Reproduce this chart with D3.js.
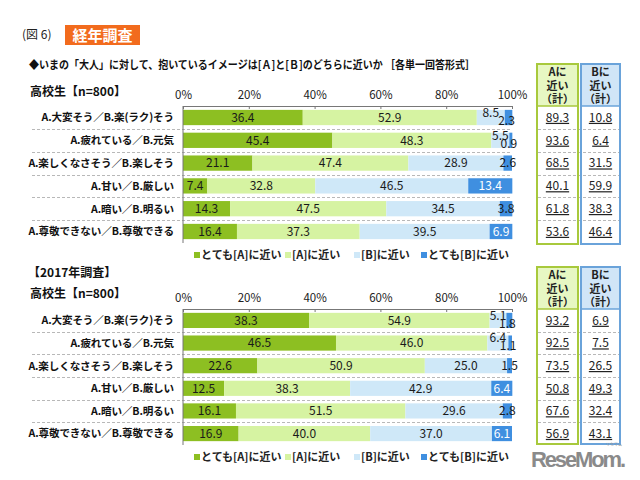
<!DOCTYPE html>
<html><head><meta charset="utf-8">
<script src="https://cdn.jsdelivr.net/npm/d3@7"></script>
<style>
html,body{margin:0;padding:0;background:#fff;}
svg{display:block;font-family:"Noto Sans CJK JP","Noto Sans",sans-serif;}
</style></head>
<body>
<svg id="chart" width="640" height="480"></svg>
<script>
// ---------- DATA ----------
const categories = [
  "A.大変そう／B.楽(ラク)そう",
  "A.疲れている／B.元気",
  "A.楽しくなさそう／B.楽しそう",
  "A.甘い／B.厳しい",
  "A.暗い／B.明るい",
  "A.尊敬できない／B.尊敬できる"
];
const seriesNames = ["とても[A]に近い", "[A]に近い", "[B]に近い", "とても[B]に近い"];
const tickValues = [0, 20, 40, 60, 80, 100];

// current survey
const veryA_now  = [36.4, 45.4, 21.1, 7.4, 14.3, 16.4];
const nearA_now  = [52.9, 48.3, 47.4, 32.8, 47.5, 37.3];
const nearB_now  = [8.5, 5.5, 28.9, 46.5, 34.5, 39.5];
const veryB_now  = [2.3, 0.9, 2.6, 13.4, 3.8, 6.9];
const totalA_now = ["89.3", "93.6", "68.5", "40.1", "61.8", "53.6"];
const totalB_now = ["10.8", "6.4", "31.5", "59.9", "38.3", "46.4"];

// 2017 survey
const veryA_2017  = [38.3, 46.5, 22.6, 12.5, 16.1, 16.9];
const nearA_2017  = [54.9, 46.0, 50.9, 38.3, 51.5, 40.0];
const nearB_2017  = [5.1, 6.4, 25.0, 42.9, 29.6, 37.0];
const veryB_2017  = [1.8, 1.1, 1.5, 6.4, 2.8, 6.1];
const totalA_2017 = ["93.2", "92.5", "73.5", "50.8", "67.6", "56.9"];
const totalB_2017 = ["6.9", "7.5", "26.5", "49.3", "32.4", "43.1"];

// ---------- STYLE ----------
const colors = ["#8dbf22", "#d6f3a2", "#cfe8f8", "#3f8fe0"];
const svg = d3.select("#chart");
const x = d3.scaleLinear().domain([0, 100]).range([183, 512]);

// header
svg.append("text").attr("x", 22).attr("y", 39).attr("font-size", 12).attr("fill", "#222").text("(図 6)");
svg.append("rect").attr("x", 65).attr("y", 25).attr("width", 75).attr("height", 20).attr("fill", "#f26b1d");
svg.append("text").attr("x", 102.5).attr("y", 41).attr("text-anchor", "middle").attr("font-size", 15)
  .attr("font-weight", "bold").attr("fill", "#fff").text("経年調査");
svg.append("text").attr("x", 29).attr("y", 69).attr("font-size", 11.2).attr("font-weight", "bold").attr("fill", "#111")
  .attr("textLength", 446).attr("lengthAdjust", "spacingAndGlyphs")
  .text("◆いまの「大人」に対して、抱いているイメージは[Ａ]と[Ｂ]のどちらに近いか ［各単一回答形式］");

function fmt(v){ return v.toFixed(1); }

function drawPanel(cfg) {
  const g = svg.append("g");
  const rows = categories.map((c, i) => {
    const vals = [cfg.s[0][i], cfg.s[1][i], cfg.s[2][i], cfg.s[3][i]];
    let cum = 0;
    const segs = vals.map((v, k) => { const s = {k, v, x0: cum, x1: cum + v}; cum += v; return s; });
    return {cat: c, segs, i};
  });
  const y = d3.scaleBand().domain(categories).range([cfg.axisY, cfg.bottom])
    .paddingInner(0.33).paddingOuter(0.17);
  const gap = y.step() - y.bandwidth();

  g.append("text").attr("x", 30).attr("y", cfg.nY).attr("font-size", 12).attr("font-weight", "bold")
    .attr("fill", "#111").text("高校生【n=800】");

  // separators
  categories.slice(1).forEach(c => {
    const yy = Math.round(y(c) - gap / 2) + 0.5;
    g.append("line").attr("x1", 32).attr("x2", 512).attr("y1", yy).attr("y2", yy)
      .attr("stroke", "#b8b8b8").attr("stroke-dasharray", "3,2");
    g.append("line").attr("x1", 538).attr("x2", 619).attr("y1", yy).attr("y2", yy)
      .attr("stroke", "#b8b8b8").attr("stroke-dasharray", "3,2");
  });

  // bars
  rows.forEach(r => {
    r.segs.forEach(s => {
      g.append("rect").attr("x", x(s.x0)).attr("y", y(r.cat))
        .attr("width", x(s.x1) - x(s.x0)).attr("height", y.bandwidth())
        .attr("fill", colors[s.k]);
    });
    // category label
    g.append("text").attr("x", 174).attr("y", y(r.cat) + y.bandwidth() / 2).attr("dy", "0.36em")
      .attr("text-anchor", "end").attr("font-size", 10.6).attr("letter-spacing", -0.15)
      .attr("font-weight", "bold").attr("fill", "#111")
      .text(r.cat);
    // value labels
    const smallB = r.segs[2].v < 10;
    r.segs.forEach(s => {
      let dx = 0, dy = 0;
      if (smallB && s.k === 2) { dy = -5; }
      if (smallB && s.k === 3) { dx = -2; dy = 3; }
      const fill = (s.k === 3 && s.v > 5) ? "#fff" : "#1a1a1a";
      g.append("text").attr("x", x((s.x0 + s.x1) / 2) + dx)
        .attr("y", y(r.cat) + y.bandwidth() / 2 + dy).attr("dy", "0.36em")
        .attr("text-anchor", "middle").attr("font-size", 12).attr("fill", fill)
        .text(fmt(s.v));
    });
  });

  // axis
  const ax = g.append("g").attr("transform", `translate(0,${cfg.axisY})`)
    .call(d3.axisTop(x).tickValues(tickValues).tickFormat(d => d + "%")
      .tickSizeInner(-3).tickSizeOuter(0).tickPadding(7));
  ax.select(".domain").attr("stroke", "#777");
  ax.selectAll(".tick line").attr("stroke", "#777");
  ax.selectAll(".tick text").attr("font-size", 11.5).attr("fill", "#222")
    .attr("font-family", "'Noto Sans CJK JP',sans-serif");
  g.append("line").attr("x1", x(0)).attr("x2", x(0)).attr("y1", cfg.axisY).attr("y2", cfg.bottom)
    .attr("stroke", "#777");

  // totals table
  const cols = [
    {x0: 537, x1: 578, fill: "#e7f7c3", stroke: "#a8c93c", head: ["Aに", "近い", "（計）"], vals: cfg.tA},
    {x0: 581, x1: 620, fill: "#d0e5f7", stroke: "#6aa3da", head: ["Bに", "近い", "（計）"], vals: cfg.tB}
  ];
  cols.forEach(c => {
    g.append("rect").attr("x", c.x0).attr("y", cfg.headTop).attr("width", c.x1 - c.x0)
      .attr("height", cfg.headBottom - cfg.headTop).attr("fill", c.fill);
    g.append("line").attr("x1", c.x0).attr("x2", c.x1).attr("y1", cfg.headBottom).attr("y2", cfg.headBottom)
      .attr("stroke", c.stroke).attr("stroke-width", 1.5);
    g.append("rect").attr("x", c.x0).attr("y", cfg.headTop).attr("width", c.x1 - c.x0)
      .attr("height", cfg.tableBottom - cfg.headTop).attr("fill", "none")
      .attr("stroke", c.stroke).attr("stroke-width", 2);
    c.head.forEach((t, j) => {
      g.append("text").attr("x", (c.x0 + c.x1) / 2).attr("y", cfg.headTop + 12 + j * 13.5)
        .attr("text-anchor", "middle").attr("font-size", 11).attr("font-weight", "bold")
        .attr("fill", "#222").text(t);
    });
    c.vals.forEach((v, i) => {
      g.append("text").attr("x", (c.x0 + c.x1) / 2).attr("y", y(categories[i]) + y.bandwidth() / 2)
        .attr("dy", "0.36em").attr("text-anchor", "middle").attr("font-size", 12)
        .attr("fill", "#222").style("text-decoration", "underline").text(v);
    });
  });

  // legend
  const lx = [194, 285, 354, 421];
  seriesNames.forEach((n, k) => {
    g.append("rect").attr("x", lx[k]).attr("y", cfg.legendY - 3).attr("width", 6).attr("height", 6)
      .attr("fill", colors[k]);
    g.append("text").attr("x", lx[k] + 7).attr("y", cfg.legendY).attr("dy", "0.36em")
      .attr("font-size", 11).attr("font-weight", "bold").attr("fill", "#222").text(n);
  });
}

drawPanel({axisY: 106, bottom: 243, nY: 96, headTop: 64, headBottom: 106, tableBottom: 244, legendY: 255,
  s: [veryA_now, nearA_now, nearB_now, veryB_now], tA: totalA_now, tB: totalB_now});

svg.append("text").attr("x", 28).attr("y", 277).attr("font-size", 12).attr("font-weight", "bold")
  .attr("fill", "#111").text("【2017年調査】");

drawPanel({axisY: 309, bottom: 445, nY: 298, headTop: 267, headBottom: 309, tableBottom: 444, legendY: 457,
  s: [veryA_2017, nearA_2017, nearB_2017, veryB_2017], tA: totalA_2017, tB: totalB_2017});

// watermark
svg.append("text").attr("x", 531).attr("y", 467).attr("font-size", 22).attr("font-weight", "bold")
  .attr("font-family", "'Liberation Sans Narrow','Liberation Sans',sans-serif")
  .attr("fill", "#8a8a8a").attr("textLength", 95).text("ReseMom.");
svg.append("text").attr("x", 606).attr("y", 446).attr("font-size", 4).attr("fill", "#999").text("リセマム");
</script>
</body></html>
